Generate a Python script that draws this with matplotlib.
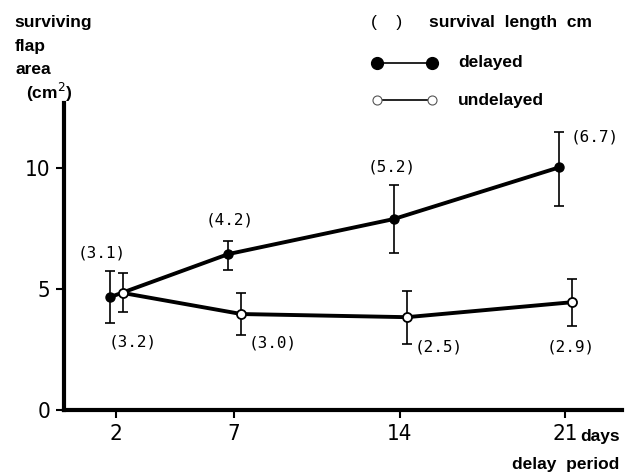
import matplotlib
matplotlib.use("Agg")
import matplotlib.pyplot as plt
from matplotlib.lines import Line2D
from matplotlib import font_manager

# data
days = [2, 7, 14, 21]
delayed = [4.67, 6.45, 7.9, 10.04]
delayed_lo = [3.6, 5.79, 6.49, 8.43]
delayed_hi = [5.74, 6.98, 9.3, 11.5]
undelayed = [4.84, 3.97, 3.84, 4.46]
undelayed_lo = [4.05, 3.1, 2.73, 3.47]
undelayed_hi = [5.66, 4.83, 4.92, 5.41]
delayed_len = ["3.1", "4.2", "5.2", "6.7"]
undelayed_len = ["3.2", "3.0", "2.5", "2.9"]
yticks = [0, 5, 10]

W, H = 630, 475
lab_font = ["Liberation Sans", "DejaVu Sans"]
num_prop = font_manager.FontProperties(family="DejaVu Sans", stretch="condensed", size=16)


def fx(px):
    return px / W


def fy(py):
    return 1 - py / H


fig = plt.figure(figsize=(6.3, 4.75), dpi=100)
ax = fig.add_axes([fx(64), fy(410), fx(622) - fx(64), fy(103) - fy(410)])

# slight horizontal shift so the two series do not overlap
xd = [d - 0.25 for d in days]
xu = [d + 0.3 for d in days]

err_kw = dict(fmt="none", ecolor="black", elinewidth=1.2, capsize=3.8, capthick=1.2)
ax.errorbar(xd, delayed,
            yerr=[[v - lo for v, lo in zip(delayed, delayed_lo)],
                  [hi - v for v, hi in zip(delayed, delayed_hi)]],
            zorder=2, **err_kw)
ax.errorbar(xu, undelayed,
            yerr=[[v - lo for v, lo in zip(undelayed, undelayed_lo)],
                  [hi - v for v, hi in zip(undelayed, undelayed_hi)]],
            zorder=2, **err_kw)

ax.plot(xd, delayed, color="black", lw=2.8, marker="o", ms=6.5,
        mfc="black", mec="black", zorder=3)
ax.plot(xu, undelayed, color="black", lw=2.8, marker="o", ms=6.5,
        mfc="white", mec="black", mew=1.3, zorder=4)

# survival length labels (offsets in pixels)
d_off = [(-8, 44), (1, 34), (-2, 52), (35, 30)]
u_off = [(10, -49), (31, -29), (32, -30), (-2, -45)]
for x, y, t, o in zip(xd, delayed, delayed_len, d_off):
    ax.annotate("(" + t + ")", (x, y), xytext=o, textcoords="offset pixels",
                ha="center", va="center", family="DejaVu Sans Mono", fontsize=11.5)
for x, y, t, o in zip(xu, undelayed, undelayed_len, u_off):
    ax.annotate("(" + t + ")", (x, y), xytext=o, textcoords="offset pixels",
                ha="center", va="center", family="DejaVu Sans Mono", fontsize=11.5)

ax.set_xlim(-0.2, 23.4)
ax.set_ylim(0, 12.7)
ax.set_xticks(days)
ax.set_xticklabels([str(d) for d in days], fontproperties=num_prop)
ax.set_yticks(yticks)
ax.set_yticklabels([str(v) for v in yticks], fontproperties=num_prop)
ax.tick_params(length=6, width=1.5, pad=4)
for s in ["top", "right"]:
    ax.spines[s].set_visible(False)
for s in ["left", "bottom"]:
    ax.spines[s].set_linewidth(3)

# axis titles
bold = dict(family=lab_font, fontweight="bold", fontsize=12.5, va="center")
fig.text(fx(14), fy(22), "surviving", ha="left", **bold)
fig.text(fx(15), fy(47), "flap", ha="left", **bold)
fig.text(fx(16), fy(70), "area", ha="left", **bold)
fig.text(fx(26), fy(92), "(cm$^2$)", ha="left", **bold)
fig.text(fx(580), fy(436), "days", ha="left", **bold)
fig.text(fx(619), fy(465), "delay  period", ha="right", **bold)

# key
fig.text(fx(371), fy(22), "(    )", ha="left", family=lab_font, fontsize=12.5, va="center")
fig.text(fx(429), fy(22), "survival  length  cm", ha="left", **bold)
fig.add_artist(Line2D([fx(377), fx(432)], [fy(63), fy(63)], color="black", lw=1.2,
                      marker="o", ms=8.5, mfc="black", mec="black"))
fig.text(fx(458), fy(63), "delayed", ha="left", **bold)
fig.add_artist(Line2D([fx(377), fx(432)], [fy(100), fy(100)], color="black", lw=1.2,
                      marker="o", ms=6.5, mfc="white", mec="#555555", mew=0.8))
fig.text(fx(458), fy(100), "undelayed", ha="left", **bold)

fig.savefig("out.png", dpi=100)
